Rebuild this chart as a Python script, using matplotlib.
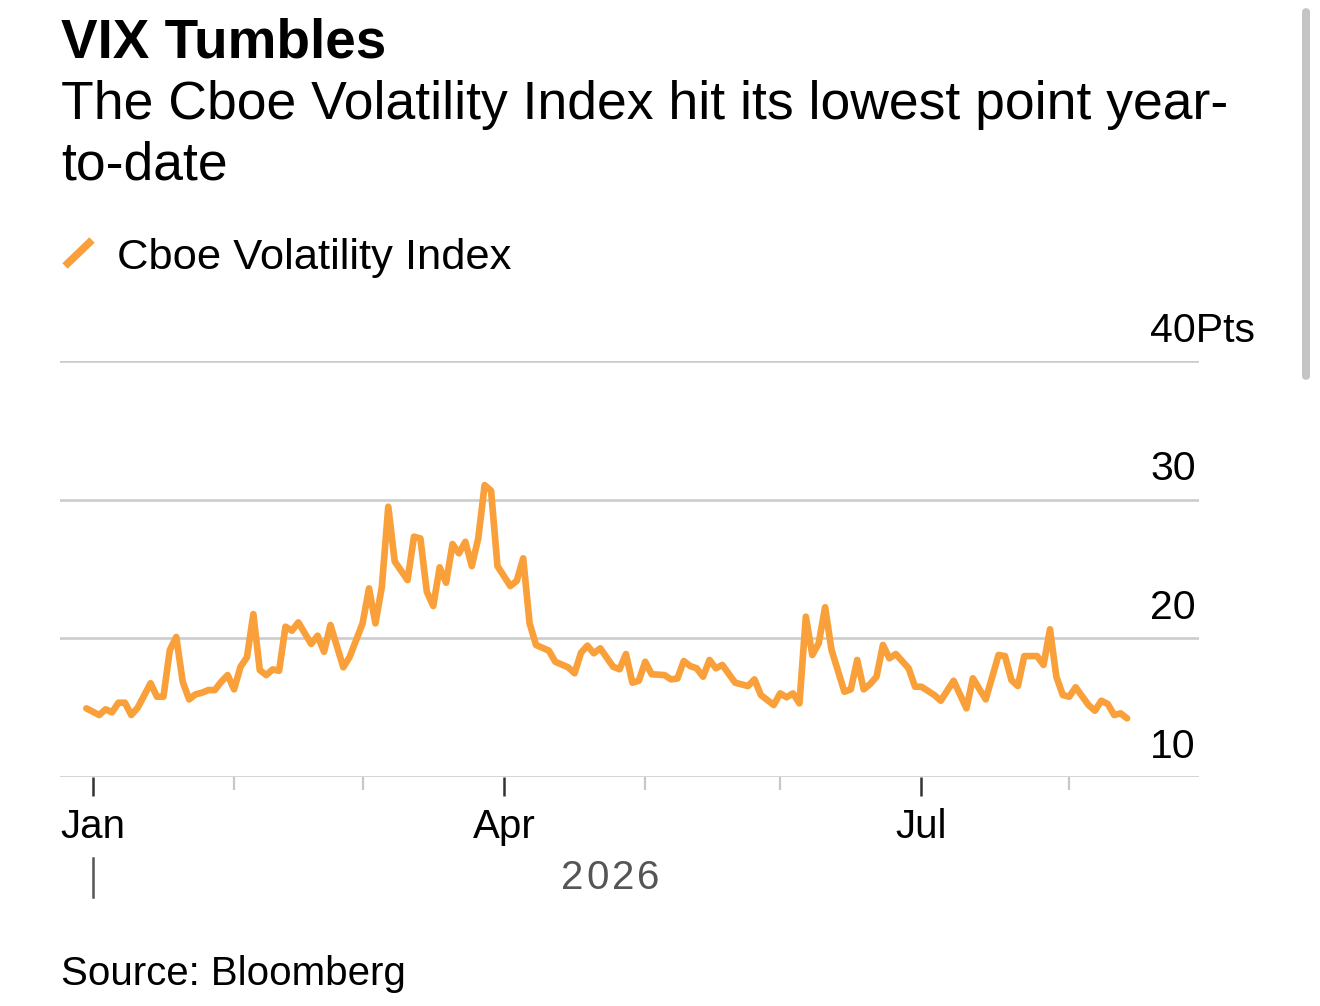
import numpy as np
import pandas as pd
import matplotlib
matplotlib.use("Agg")
import matplotlib.pyplot as plt
import matplotlib.transforms as mtransforms
from matplotlib.lines import Line2D
from matplotlib.patches import FancyBboxPatch

# Cboe Volatility Index (turning points of the line).
# The chart runs on a business-day scale, so the x positions are weekday counts.
dates = [
    "2025-12-31", "2026-01-02", "2026-01-05", "2026-01-06", "2026-01-07", "2026-01-08",
    "2026-01-09", "2026-01-12", "2026-01-14", "2026-01-15", "2026-01-16", "2026-01-19",
    "2026-01-20", "2026-01-21", "2026-01-22", "2026-01-23", "2026-01-26", "2026-01-27",
    "2026-01-28", "2026-01-29", "2026-01-30", "2026-02-02", "2026-02-03", "2026-02-04",
    "2026-02-05", "2026-02-06", "2026-02-09", "2026-02-10", "2026-02-11", "2026-02-12",
    "2026-02-13", "2026-02-16", "2026-02-18", "2026-02-19", "2026-02-20", "2026-02-23",
    "2026-02-25", "2026-02-26", "2026-03-02", "2026-03-03", "2026-03-04", "2026-03-05",
    "2026-03-06", "2026-03-09", "2026-03-11", "2026-03-12", "2026-03-13", "2026-03-16",
    "2026-03-17", "2026-03-18", "2026-03-19", "2026-03-20", "2026-03-23", "2026-03-24",
    "2026-03-25", "2026-03-26", "2026-03-27", "2026-03-30", "2026-03-31", "2026-04-02",
    "2026-04-03", "2026-04-06", "2026-04-07", "2026-04-08", "2026-04-10", "2026-04-13",
    "2026-04-15", "2026-04-16", "2026-04-17", "2026-04-20", "2026-04-21", "2026-04-22",
    "2026-04-24", "2026-04-27", "2026-04-28", "2026-04-29", "2026-04-30", "2026-05-01",
    "2026-05-04", "2026-05-06", "2026-05-07", "2026-05-08", "2026-05-11", "2026-05-12",
    "2026-05-13", "2026-05-14", "2026-05-15", "2026-05-18", "2026-05-19", "2026-05-21",
    "2026-05-25", "2026-05-26", "2026-05-27", "2026-05-29", "2026-06-01", "2026-06-02",
    "2026-06-03", "2026-06-04", "2026-06-05", "2026-06-08", "2026-06-09", "2026-06-10",
    "2026-06-11", "2026-06-15", "2026-06-16", "2026-06-17", "2026-06-18", "2026-06-19",
    "2026-06-22", "2026-06-23", "2026-06-24", "2026-06-25", "2026-06-29", "2026-06-30",
    "2026-07-01", "2026-07-03", "2026-07-06", "2026-07-08", "2026-07-10", "2026-07-13",
    "2026-07-15", "2026-07-17", "2026-07-20", "2026-07-21", "2026-07-22", "2026-07-23",
    "2026-07-27", "2026-07-28", "2026-07-29", "2026-07-30", "2026-07-31", "2026-08-03",
    "2026-08-04", "2026-08-06", "2026-08-07", "2026-08-10", "2026-08-11", "2026-08-12",
    "2026-08-13", "2026-08-14",
]
vix = [
    14.95, 14.47, 14.88, 14.66, 15.36, 15.36,
    14.47, 15.00, 16.76, 15.79, 15.79, 19.16,
    20.10, 16.87, 15.60, 15.96, 16.08, 16.27,
    16.27, 16.87, 17.35, 16.32, 17.95, 18.63,
    21.75, 17.71, 17.35, 17.76, 17.66, 20.84,
    20.55, 21.15, 19.59, 20.19, 19.03, 20.96,
    17.91, 18.67, 21.08, 23.60, 21.08, 23.72,
    29.49, 25.55, 24.20, 27.33, 27.20, 23.36,
    22.33, 25.12, 24.01, 26.80, 26.13, 26.96,
    25.21, 27.20, 31.05, 30.64, 25.21, 23.77,
    24.15, 25.77, 21.08, 19.52, 19.11, 18.31,
    17.91, 17.48, 18.96, 19.47, 18.92, 19.28,
    17.95, 17.77, 18.87, 16.80, 16.94, 18.31,
    17.41, 17.35, 17.04, 17.10, 18.36, 18.00,
    17.84, 17.23, 18.44, 17.84, 18.08, 16.80,
    16.56, 17.04, 15.91, 15.19, 16.03, 15.75,
    16.03, 15.31, 21.56, 18.80, 19.64, 22.24,
    19.16, 16.15, 16.32, 18.44, 16.32, 16.70,
    17.23, 19.52, 18.56, 18.87, 17.84, 16.51,
    16.51, 15.91, 15.50, 16.94, 14.95, 17.12,
    15.60, 18.80, 18.72, 16.99, 16.56, 18.72,
    18.72, 18.08, 20.65, 17.23, 15.91, 15.79,
    16.47, 15.19, 14.78, 15.50, 15.26, 14.47,
    14.59, 14.23,
]
y_ticks = [10, 20, 30, 40]
y_labels = ["10", "20", "30", "40Pts"]
major_months = ["2026-01-01", "2026-04-01", "2026-07-01"]
major_labels = ["Jan", "Apr", "Jul"]
minor_months = ["2026-02-01", "2026-03-01", "2026-05-01", "2026-06-01", "2026-08-01"]

title = "VIX Tumbles"
subtitle_lines = ["The Cboe Volatility Index hit its lowest point year-", "to-date"]
series_name = "Cboe Volatility Index"
year_label = "2026"
source = "Source: Bloomberg"

ORANGE = "#F9A03B"
GRID = "#CCCCCC"

W, H = 1320, 1006
plt.rcParams["font.family"] = ["Liberation Sans", "DejaVu Sans"]

start = "2026-01-01"
df = pd.DataFrame({"date": dates, "vix": vix})
df["bday"] = np.busday_count(start, df["date"].values.astype("datetime64[D]"))

fig = plt.figure(figsize=(W / 100, H / 100), dpi=100)
fig.patch.set_facecolor("white")


def fx(x):
    return x / W


def fy(y):
    return 1 - y / H


# header
fig.text(fx(61), fy(57), title, fontsize=39.5, fontweight="bold", va="baseline")
fig.text(fx(61), fy(119), subtitle_lines[0], fontsize=38.5, va="baseline")
fig.text(fx(61), fy(179), subtitle_lines[1], fontsize=38.5, va="baseline")

# legend: orange slash + name
fig.add_artist(Line2D([fx(65), fx(92)], [fy(266), fy(240)], color=ORANGE,
                      lw=5.5, solid_capstyle="butt"))
fig.text(fx(117), fy(269), series_name, fontsize=31.3, va="baseline")

# chart
ax = fig.add_axes([fx(60), fy(777), fx(1199) - fx(60), fy(361) - fy(777)])
ax.plot(df["bday"], df["vix"], color=ORANGE, lw=4.8, solid_joinstyle="round",
        solid_capstyle="round", zorder=3)

ax.set_xlim(-5.1, 172.2)
ax.set_ylim(10, 40)

for s in ax.spines.values():
    s.set_visible(False)

for v in y_ticks:
    ax.axhline(v, color=GRID, lw=1.9, zorder=1)

ax.set_yticks([])
blend = mtransforms.blended_transform_factory(ax.transAxes, ax.transData)
for v, lab in zip(y_ticks, y_labels):
    ax.annotate(lab, xy=(0.957, v), xycoords=blend, xytext=(0, 14),
                textcoords="offset points", fontsize=29.5, va="baseline",
                ha="left", annotation_clip=False)

ax.set_xticks(np.busday_count(start, major_months))
ax.set_xticklabels(major_labels)
ax.set_xticks(np.busday_count(start, minor_months), minor=True)
ax.tick_params(axis="x", which="major", length=14, width=1.8, color="#333333",
               labelsize=29, pad=8, labelcolor="black")
ax.tick_params(axis="x", which="minor", length=9, width=1.6, color="#C8C8C8")

# year marker under the first tick
xblend = mtransforms.blended_transform_factory(ax.transData, fig.transFigure)
ax.plot([0, 0], [fy(858), fy(897)], color="#555555", lw=1.8,
        transform=xblend, clip_on=False)
step = 25.5
x0 = 610 - step * 1.5
for i, ch in enumerate(year_label):
    fig.text(fx(x0 + i * step), fy(889), ch, fontsize=29, color="#555555",
             ha="center", va="baseline")

fig.text(fx(61), fy(985), source, fontsize=29, va="baseline")

# scrollbar from the screenshot
fig.add_artist(FancyBboxPatch((fx(1302), fy(380)), fx(8), fy(8) - fy(380),
                              boxstyle="round,pad=0,rounding_size=0.004",
                              facecolor="#C4C4C4", edgecolor="none",
                              transform=fig.transFigure))

fig.savefig("out.png", dpi=100, facecolor="white")
